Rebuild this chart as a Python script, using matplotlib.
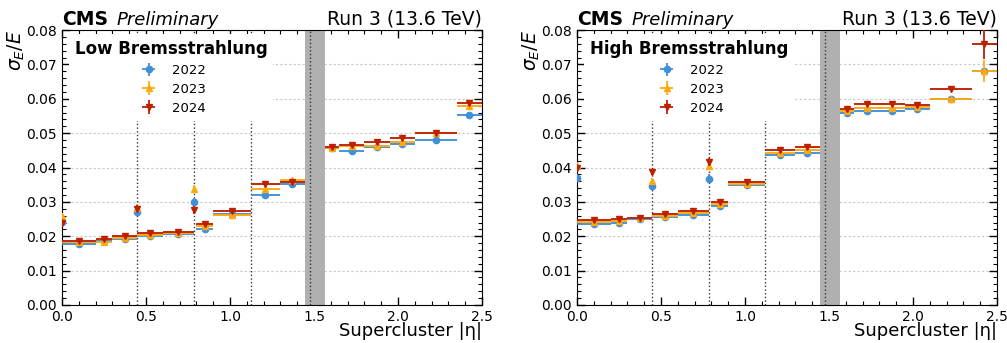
import numpy as np
import matplotlib
matplotlib.use("Agg")
import matplotlib.pyplot as plt
from matplotlib.ticker import MultipleLocator, FormatStrFormatter

# |eta| binning of the supercluster resolution measurement
bin_lo = [0.0, 0.2, 0.3, 0.4442, 0.6, 0.8, 0.9, 1.1221, 1.3,
          1.566, 1.65, 1.8, 1.95, 2.1, 2.35]
bin_hi = [0.2, 0.3, 0.4442, 0.6, 0.7833, 0.9, 1.1221, 1.3, 1.4442,
          1.65, 1.8, 1.95, 2.1, 2.35, 2.5]
# ECAL module boundaries (cracks) with dedicated points
crack_eta = [0.0, 0.4442, 0.7833]
module_edges = [0.4442, 0.7833, 1.1221]
gap_lo, gap_hi, gap_mid = 1.4442, 1.566, 1.479

years = ["2022", "2023", "2024"]

# Low bremsstrahlung resolution per bin
low_2022 = [0.0177, 0.0185, 0.0192, 0.0201, 0.0206, 0.0222, 0.0265, 0.0321, 0.0351,
            0.0456, 0.0449, 0.0459, 0.0468, 0.0481, 0.0553]
low_2023 = [0.0183, 0.0182, 0.0195, 0.0204, 0.0209, 0.0230, 0.0262, 0.0337, 0.0365,
            0.0457, 0.0463, 0.0463, 0.0473, 0.0501, 0.0578]
low_2024 = [0.0186, 0.0191, 0.0200, 0.0208, 0.0212, 0.0235, 0.0273, 0.0353, 0.0359,
            0.0459, 0.0466, 0.0475, 0.0487, 0.0500, 0.0588]
low_crack_2022 = [0.0242, 0.0271, 0.0299]
low_crack_2023 = [0.0259, 0.0283, 0.0337]
low_crack_2024 = [0.0240, 0.0280, 0.0276]

# High bremsstrahlung resolution per bin
high_2022 = [0.0237, 0.0240, 0.0249, 0.0257, 0.0262, 0.0289, 0.0348, 0.0436, 0.0441,
             0.0559, 0.0564, 0.0565, 0.0570, 0.0598, 0.0680]
high_2023 = [0.0242, 0.0244, 0.0252, 0.0260, 0.0267, 0.0294, 0.0352, 0.0443, 0.0451,
             0.0564, 0.0572, 0.0572, 0.0577, 0.0600, 0.0681]
high_2024 = [0.0247, 0.0251, 0.0254, 0.0265, 0.0274, 0.0299, 0.0357, 0.0451, 0.0460,
             0.0570, 0.0584, 0.0584, 0.0582, 0.0629, 0.0760]
high_crack_2022 = [0.0370, 0.0346, 0.0368]
high_crack_2023 = [0.0405, 0.0360, 0.0405]
high_crack_2024 = [0.0400, 0.0387, 0.0415]

# statistical uncertainties per bin
low_err_2022 = [0.0003] * 14 + [0.0005]
low_err_2023 = [0.0003] * 14 + [0.0006]
low_err_2024 = [0.0003] * 14 + [0.0006]
high_err_2022 = [0.0003] * 14 + [0.0006]
high_err_2023 = [0.0003] * 14 + [0.0033]
high_err_2024 = [0.0003] * 14 + [0.0045]
crack_err = [0.0010, 0.0010, 0.0012]

colors = ["#3f90da", "#ffa90e", "#bd1f01"]
markers = ["o", "^", "v"]
band_half = 0.0003  # half-height of the shaded bin band

plt.rcParams["font.family"] = ["DejaVu Sans"]
plt.rcParams["mathtext.fontset"] = "dejavusans"

fig = plt.figure(figsize=(10.07, 3.43), dpi=100)
ax_low = fig.add_axes([0.0616, 0.1108, 0.417, 0.8017])
ax_high = fig.add_axes([0.5730, 0.1108, 0.417, 0.8017])

panels = [
    (ax_low, "Low Bremsstrahlung", [low_2022, low_2023, low_2024],
     [low_err_2022, low_err_2023, low_err_2024],
     [low_crack_2022, low_crack_2023, low_crack_2024]),
    (ax_high, "High Bremsstrahlung", [high_2022, high_2023, high_2024],
     [high_err_2022, high_err_2023, high_err_2024],
     [high_crack_2022, high_crack_2023, high_crack_2024]),
]

lo = np.array(bin_lo)
hi = np.array(bin_hi)
centers = 0.5 * (lo + hi)
halfw = 0.5 * (hi - lo)

for ax, title, vals, errs, cracks in panels:
    ax.set_xlim(0, 2.5)
    ax.set_ylim(0, 0.08)
    ax.xaxis.set_major_locator(MultipleLocator(0.5))
    ax.xaxis.set_minor_locator(MultipleLocator(0.1))
    ax.yaxis.set_major_locator(MultipleLocator(0.01))
    ax.yaxis.set_minor_locator(MultipleLocator(0.002))
    ax.tick_params(which="both", direction="in", top=True, right=True, labelsize=10)
    ax.tick_params(which="major", length=6, width=1)
    ax.tick_params(which="minor", length=3, width=0.8)
    ax.xaxis.set_major_formatter(FormatStrFormatter("%.1f"))
    ax.yaxis.set_major_formatter(FormatStrFormatter("%.2f"))
    ax.set_axisbelow(True)
    ax.grid(axis="y", which="major", color="#c8c8c8", linestyle=(0, (2, 2)), linewidth=0.8)

    ax.axvspan(gap_lo, gap_hi, color="#b0b0b0", zorder=1, lw=0)
    for e in module_edges + [gap_mid]:
        ax.axvline(e, color="#333333", linestyle=":", linewidth=1.0, zorder=1.5)

    handles = []
    for i, year in enumerate(years):
        v = np.array(vals[i])
        err = np.array(errs[i])
        ax.bar(centers, 2 * band_half, bottom=v - band_half, width=2 * halfw,
               color=colors[i], alpha=0.35, lw=0, zorder=2)
        h = ax.errorbar(centers, v, xerr=halfw, yerr=err, fmt=markers[i],
                        color=colors[i], ms=4.5, elinewidth=1.3, capsize=0,
                        zorder=3 + i, label=year)
        ax.errorbar(crack_eta, cracks[i], yerr=crack_err, xerr=0.004,
                    fmt=markers[i], color=colors[i], ms=4.5, elinewidth=1.3,
                    capsize=0, zorder=3 + i)
        handles.append(h)

    leg = ax.legend(handles=handles, labels=years, loc="upper left",
                    bbox_to_anchor=(0.0, 1.01), fontsize=9.5,
                    title=title, title_fontproperties={"weight": "bold", "size": 12},
                    frameon=True, fancybox=False, framealpha=1.0,
                    edgecolor="none", facecolor="white",
                    borderpad=0.45, labelspacing=0.45, handlelength=2.0)
    leg.set_zorder(10)

    ax.set_ylabel(r"$\sigma_E/E$", fontsize=13.5, loc="top")
    ax.yaxis.set_label_coords(-0.083, 1.0)
    ax.set_xlabel("Supercluster |η|", fontsize=13, loc="right")
    ax.xaxis.set_label_coords(1.0, -0.062)
    ax.text(0.0, 1.02, "CMS", transform=ax.transAxes, fontsize=13.5,
            fontweight="bold", ha="left", va="baseline")
    ax.text(0.13, 1.02, "Preliminary", transform=ax.transAxes, fontsize=13,
            fontstyle="italic", ha="left", va="baseline")
    ax.text(1.0, 1.02, "Run 3 (13.6 TeV)", transform=ax.transAxes, fontsize=13.5,
            ha="right", va="baseline")

fig.savefig("out.png", dpi=100)
